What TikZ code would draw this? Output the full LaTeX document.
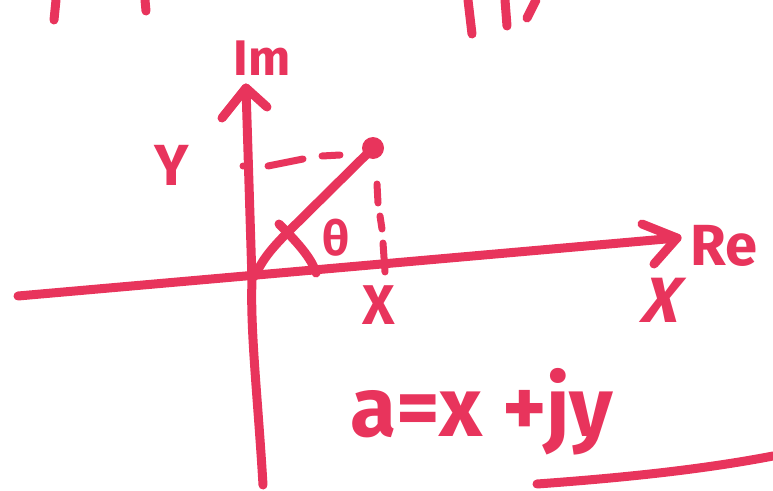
\documentclass[tikz,border=0pt]{standalone}
\usepackage{fontspec}
\setmainfont{Fira Sans}
\definecolor{inkc}{RGB}{232,52,92}
\tikzset{
  ink/.style={draw=inkc, line width=9pt, line cap=round, line join=round},
  thinink/.style={draw=inkc, line width=7pt, line cap=round, line join=round},
  lbl/.style={text=inkc, inner sep=0pt, font=\fontsize{#1}{#1}\selectfont\bfseries},
  lbl/.default=56
}
\begin{document}
\begin{tikzpicture}[x=1pt,y=-1pt]
\useasboundingbox (0,0) rectangle (773,490);
% coordinates
\coordinate (reS) at (18,296);
\coordinate (reE) at (677,238);
\coordinate (reU) at (642,224);
\coordinate (reL) at (654,264);
\coordinate (imS) at (263,485);
\coordinate (imM) at (252,280);
\coordinate (imE) at (246,88);
\coordinate (imL) at (222,118);
\coordinate (imR) at (267,107);
\coordinate (o) at (255,276);
\coordinate (vk) at (287,233);
\coordinate (tip) at (373,148);
\coordinate (aS) at (279,224);
\coordinate (aE) at (316,273);
\coordinate (hd) at (243,166);
\coordinate (h1a) at (268,166);
\coordinate (h1b) at (303,159);
\coordinate (h2a) at (322,156);
\coordinate (h2b) at (340,155);
\coordinate (v1a) at (377,184);
\coordinate (v1b) at (378,203);
\coordinate (v2a) at (380,216);
\coordinate (v2b) at (382,229);
\coordinate (v3a) at (383,243);
\coordinate (v3b) at (385,272);
\coordinate (ulS) at (537,484);
\coordinate (ulE) at (773,456);
% axes
\draw[ink] (reS) -- (reE);
\draw[ink] (reU) -- (reE) -- (reL);
\draw[ink] (imS) .. controls (258,400) and (250,330) .. (imM) -- (imE);
\draw[ink] (imL) -- (imE) -- (imR);
% vector
\draw[ink] (tip) -- (vk) .. controls (272,248) and (262,260) .. (o);
\fill[inkc] (tip) circle (11pt);
% angle mark
\draw[ink] (aS) .. controls (295,240) and (312,258) .. (aE);
% dashed projections
\fill[inkc] (hd) circle (3.5pt);
\draw[thinink] (h1a) -- (h1b);
\draw[thinink] (h2a) -- (h2b);
\draw[thinink] (v1a) -- (v1b);
\draw[thinink] (v2a) -- (v2b);
\draw[thinink] (v3a) -- (v3b);
% underline
\draw[ink] (ulS) .. controls (620,478) and (700,470) .. (ulE);
% cut-off strokes at top edge
\coordinate (t1a) at (56,0); \coordinate (t1b) at (54,20);
\coordinate (t2a) at (145,0); \coordinate (t2b) at (146,11);
\coordinate (t3a) at (468,0); \coordinate (t3b) at (472,34);
\coordinate (t4a) at (505,0); \coordinate (t4b) at (507,26);
\coordinate (t5a) at (536,0); \coordinate (t5b) at (527,18);
\draw[ink] (t1a) -- (t1b);
\draw[ink] (t2a) -- (t2b);
\draw[ink] (t3a) -- (t3b);
\draw[ink] (t4a) -- (t4b);
\draw[ink] (t5a) -- (t5b);
% labels
\node[lbl=50] (im) at (262,58) {Im};
\node[lbl=58] (re) at (724,246) {Re};
\node[lbl=58] (ylab) at (172,165) {Y};
\node[lbl=56] (xlab) at (379,305) {X};
\node[lbl=64, xslant=0.25] (xre) at (664,300) {X};
\node[lbl=48] (th) at (336,238) {θ};
\node[lbl=84] (eq) at (482,412) {a=x +jy};
\end{tikzpicture}
\end{document}
